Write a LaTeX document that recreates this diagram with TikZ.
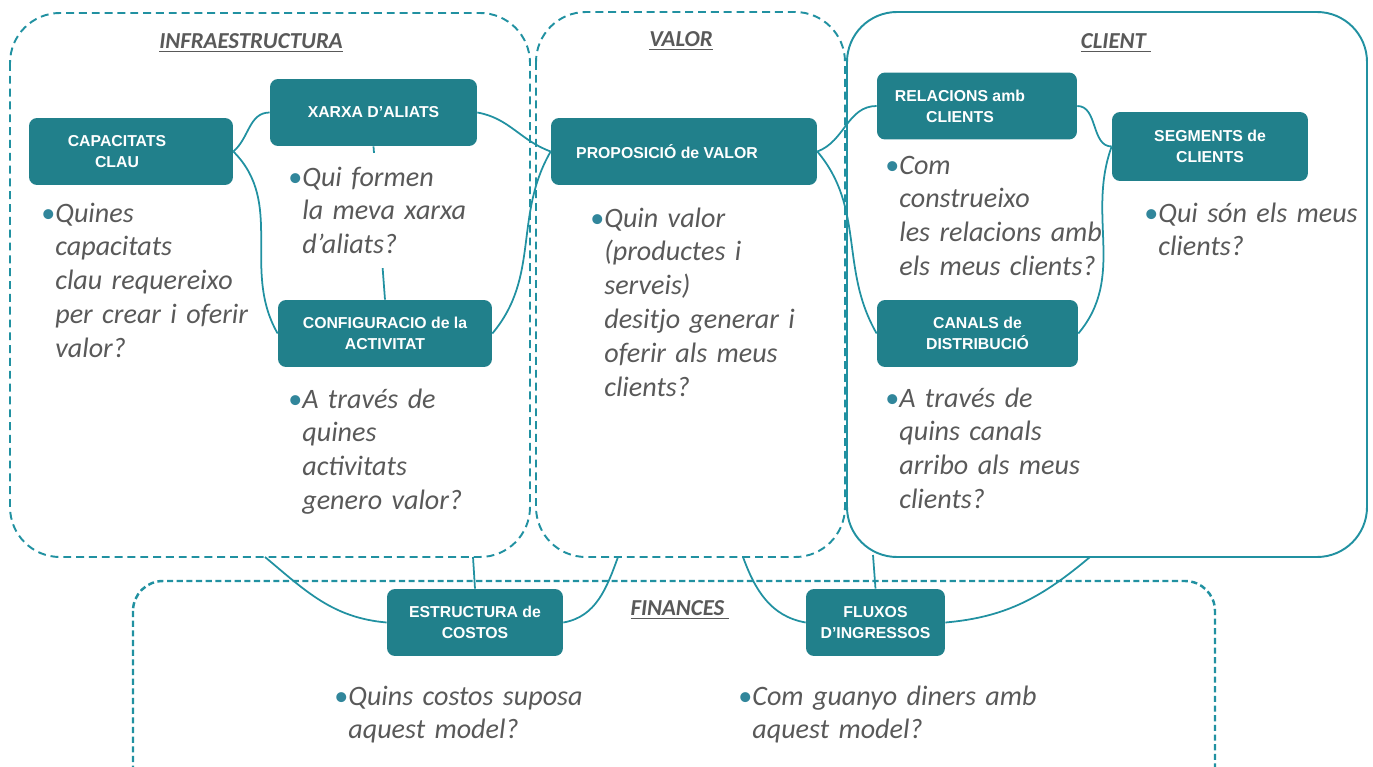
\documentclass[tikz,border=0pt]{standalone}
\usepackage{fontspec}
\usepackage{tikz}
\newfontfamily\calfont{Carlito}
\newfontfamily\arialfont{Liberation Sans}
\definecolor{boxteal}{HTML}{21808B}
\definecolor{lineteal}{HTML}{2191A1}
\definecolor{txtgray}{HTML}{595959}
\definecolor{dotteal}{HTML}{31869B}
\newcommand{\bul}{\llap{\textcolor{dotteal}{\upshape •}}}

\begin{document}
\begin{tikzpicture}[x=0.02cm, y=-0.02cm,
    box/.style={fill=boxteal, text=white, rounded corners=0.16cm, minimum height=1.34cm, align=center,
                font=\arialfont\bfseries\fontsize{9}{12}\selectfont},
    grp/.style={draw=lineteal, line width=1.1pt, rounded corners=1cm},
    link/.style={draw=lineteal, line width=1pt},
    qst/.style={anchor=base west, text width=6cm, align=left, inner sep=0pt, text=txtgray,
                font=\calfont\itshape\fontsize{16}{19.3}\selectfont},
    ttl/.style={text=txtgray, font=\calfont\bfseries\itshape\fontsize{13}{15}\selectfont}]
         \useasboundingbox (0,0) rectangle (1373,767);
         \clip (0,0) rectangle (1373,767);
         \draw [grp, dash pattern=on 4.5pt off 2.8pt] (10,13) rectangle (530,557);
         \draw [grp, dash pattern=on 4.5pt off 2.8pt] (536,12) rectangle (845,557);
         \draw [grp] (847,12) rectangle (1367,557);
         \draw [grp, rounded corners=0.6cm, line width=1.4pt, dash pattern=on 3.5pt off 2pt] (133,581) rectangle (1215,800);
         \node [ttl] (TI) at (251,43) {\underline{INFRAESTRUCTURA}};
         \node [ttl] (TV) at (681,41) {\underline{VALOR}};
         \node [ttl] (TC) at (1116,43) {\underline{CLIENT\ }};
         \node [ttl] (TF) at (680,610) {\underline{FINANCES\ }};
         \node [box, minimum width=4.08cm] (CAP) at (131,151.5) {CAPACITATS\hspace*{0.56cm}\\CLAU\hspace*{0.56cm}};
         \node [box, minimum width=4.14cm] (XAR) at (373.5,112.5) {XARXA D’ALIATS};
         \node [box, minimum width=4.28cm] (CONF) at (385,333.5) {CONFIGURACIO de la\\ACTIVITAT};
         \node [box, minimum width=5.32cm] (PROP) at (684,151.5) {PROPOSICIÓ de VALOR\hspace*{0.68cm}};
         \node [box, minimum width=4.0cm] (REL) at (977,106) {RELACIONS amb\hspace*{0.68cm}\\CLIENTS\hspace*{0.68cm}};
         \node [box, minimum width=3.92cm, minimum height=1.38cm] (SEG) at (1210,146.5) {SEGMENTS de\\CLIENTS};
         \node [box, minimum width=4.02cm] (CAN) at (977.5,333.5) {CANALS de\\DISTRIBUCIÓ};
         \node [box, minimum width=3.52cm] (COST) at (475,622.5) {ESTRUCTURA de\\COSTOS};
         \node [box, minimum width=2.78cm] (FLUX) at (875.5,622.5) {FLUXOS\\D’INGRESSOS};
         \coordinate (CL) at (265,557);
         \coordinate (CM) at (473,557);
         \coordinate (CR) at (618,557);
         \coordinate (FL) at (743,557);
         \coordinate (FM) at (873,555);
         \coordinate (FR) at (1090,557);
         \draw [link] (CAP.east) to [out=40,in=180] (XAR.west);
         \draw [link] (CAP.east) to [out=-45,in=120] (CONF.west);
         \draw [link] (XAR.east) to [out=-10,in=160] (PROP.west);
         \draw [link] (CONF.east) to [out=50,in=240] (PROP.west);
         \draw [link] (XAR.south) -- (CONF.north);
         \draw [link] (PROP.east) to [out=20,in=180] (REL.west);
         \draw [link] (PROP.east) to [out=-50,in=120] (CAN.west);
         \draw [link] (REL.east) to [out=0,in=180] (SEG.west);
         \draw [link] (CAN.east) to [out=50,in=250] (SEG.west);
         \draw [link] (COST.west) to [out=175,in=-40] (CL);
         \draw [link] (COST.north) -- (CM);
         \draw [link] (COST.east) to [out=10,in=-110] (CR);
         \draw [link] (FLUX.west) to [out=170,in=-70] (FL);
         \draw [link] (FLUX.north) -- (FM);
         \draw [link] (FLUX.east) to [out=5,in=-140] (FR);
         \node [qst] (QCAP) at (55,222) {\bul Quines\\capacitats\\clau requereixo\\per crear i oferir\\valor?};
         \node [qst, text width=3.4cm, fill=white, inner ysep=0.28cm] (QXAR) at (302,186) {\bul Qui formen\\la meva xarxa\\d’aliats?};
         \node [qst] (QCONF) at (302,408) {\bul A través de\\quines\\activitats\\genero valor?};
         \node [qst] (QPROP) at (604,227) {\bul Quin valor\\(productes i\\serveis)\\desitjo generar i\\oferir als meus\\clients?};
         \node [qst] (QREL) at (899,174) {\bul Com\\construeixo\\les relacions amb\\els meus clients?};
         \node [qst] (QSEG) at (1158,222) {\bul Qui són els meus\\clients?};
         \node [qst] (QCAN) at (899,407) {\bul A través de\\quins canals\\arribo als meus\\clients?};
         \node [qst] (QCOST) at (348,705) {\bul Quins costos suposa\\aquest model?};
         \node [qst] (QFLUX) at (752,705) {\bul Com guanyo diners amb\\aquest model?};
\end{tikzpicture}
\end{document}
